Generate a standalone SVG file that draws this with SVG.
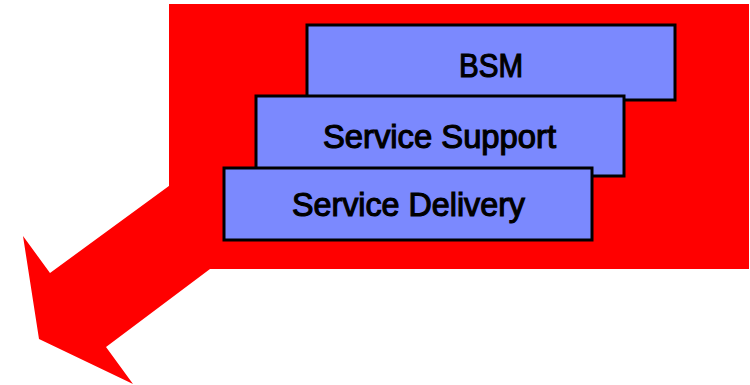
<svg xmlns="http://www.w3.org/2000/svg" width="750" height="385" viewBox="0 0 750 385">
<style>
.box{fill:#7B89FE;stroke:#000;stroke-width:3}
.lbl{font-family:"Liberation Sans",Arial,sans-serif;font-size:34px;fill:#000;stroke:#000;stroke-width:1.2}
</style>
<rect x="0" y="0" width="750" height="385" fill="#fff"/>
<g id="background">
<rect x="169" y="4" width="580" height="265" fill="#f00"/>
</g>
<g id="connectors">
<polygon points="173,183 50,273 23,236 39,339 133,384 106,347 214,266" fill="#f00"/>
</g>
<g id="bsm">
<rect class="box" x="307" y="25" width="368" height="75"/>
<text class="lbl" x="459" y="77" textLength="64" lengthAdjust="spacingAndGlyphs">BSM</text>
</g>
<g id="service-support">
<rect class="box" x="256" y="96" width="368" height="80"/>
<text class="lbl" x="323" y="148" textLength="233" lengthAdjust="spacingAndGlyphs">Service Support</text>
</g>
<g id="service-delivery">
<rect class="box" x="224" y="168" width="368" height="72"/>
<text class="lbl" x="292" y="216" textLength="233" lengthAdjust="spacingAndGlyphs">Service Delivery</text>
</g>
</svg>
